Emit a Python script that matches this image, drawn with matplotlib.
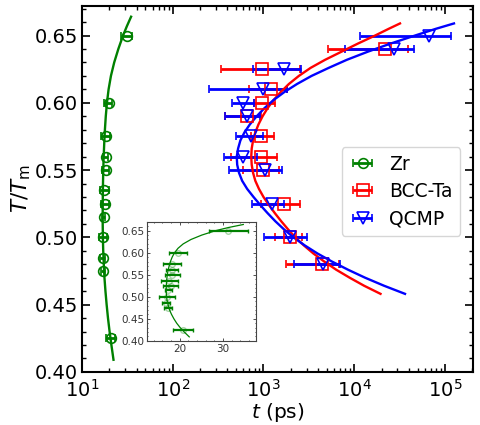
import numpy as np
import matplotlib
matplotlib.use('Agg')
import matplotlib.pyplot as plt
from matplotlib.ticker import MultipleLocator

# Zr (linear t in ps)
zr_T = [0.65, 0.60, 0.575, 0.56, 0.55, 0.535, 0.525, 0.515, 0.50, 0.485, 0.475, 0.425]
zr_t = [31.2, 19.6, 18.2, 18.2, 18.3, 17.6, 17.9, 17.3, 17.0, 16.8, 17.2, 20.8]
zr_err = [4.5, 2.0, 2.0, 1.3, 1.7, 2.0, 1.8, 0.8, 1.8, 1.0, 0.9, 2.3]

# BCC-Ta
ta_T = [0.64, 0.625, 0.61, 0.60, 0.59, 0.575, 0.56, 0.55, 0.525, 0.50, 0.48]
ta_t = [2.19e4, 966, 1195, 965, 665, 950, 927, 990, 1670, 1945, 4410]
ta_lo = [5090, 343, 700, 785, 380, 720, 440, 600, 930, 1350, 1790]
ta_hi = [3.95e4, 2500, 1800, 1350, 930, 1290, 1410, 1500, 2500, 2650, 6730]

# QCMP
qc_T = [0.65, 0.64, 0.625, 0.61, 0.60, 0.59, 0.575, 0.56, 0.55, 0.525, 0.50, 0.48]
qc_t = [6.6e4, 2.76e4, 1700, 1000, 600, 660, 720, 600, 1035, 1245, 1945, 4500]
qc_lo = [1.15e4, 7.9e3, 770, 250, 453, 380, 500, 370, 415, 750, 1020, 2190]
qc_hi = [1.17e5, 4.6e4, 2590, 1820, 783, 925, 990, 850, 1600, 1700, 3020, 6900]

# fitted C-curves
zr_fit_T = [0.409, 0.42, 0.43, 0.44, 0.45, 0.46, 0.47, 0.48, 0.49, 0.50, 0.51, 0.52,
            0.53, 0.54, 0.55, 0.56, 0.57, 0.58, 0.59, 0.60, 0.61, 0.62, 0.63, 0.64,
            0.65, 0.657, 0.664]
zr_fit_t = [22.2, 21.05, 20.1, 19.3, 18.65, 18.1, 17.65, 17.35, 17.1, 16.95, 16.88, 16.88,
            16.92, 17.0, 17.12, 17.3, 17.55, 17.85, 18.25, 18.8, 19.6, 20.8, 22.6, 25.1,
            28.3, 31.2, 34.7]

ta_fit_T = [0.458, 0.464, 0.470, 0.476, 0.482, 0.488, 0.494, 0.500, 0.506, 0.512,
            0.518, 0.524, 0.530, 0.536, 0.542, 0.548, 0.554, 0.560, 0.566, 0.572,
            0.578, 0.584, 0.590, 0.596, 0.602, 0.608, 0.614, 0.620, 0.626, 0.632,
            0.638, 0.644, 0.650, 0.655, 0.659]
ta_fit_logt = [4.29, 4.11, 3.95, 3.80, 3.67, 3.55, 3.445, 3.35, 3.27, 3.195,
               3.125, 3.06, 3.00, 2.95, 2.91, 2.885, 2.87, 2.865, 2.87, 2.885,
               2.91, 2.945, 2.99, 3.045, 3.11, 3.19, 3.28, 3.39, 3.52, 3.68,
               3.86, 4.04, 4.23, 4.38, 4.505]

qc_fit_T = [0.458, 0.464, 0.470, 0.476, 0.482, 0.488, 0.494, 0.500, 0.506, 0.512,
            0.518, 0.524, 0.530, 0.536, 0.542, 0.548, 0.554, 0.560, 0.566, 0.572,
            0.578, 0.584, 0.590, 0.596, 0.602, 0.608, 0.614, 0.620, 0.626, 0.632,
            0.638, 0.644, 0.650, 0.655, 0.659]
qc_fit_logt = [4.56, 4.33, 4.12, 3.93, 3.755, 3.595, 3.455, 3.33, 3.225, 3.13,
               3.045, 2.965, 2.89, 2.82, 2.765, 2.73, 2.71, 2.705, 2.72, 2.745,
               2.79, 2.85, 2.925, 3.01, 3.11, 3.23, 3.37, 3.53, 3.72, 3.92,
               4.15, 4.40, 4.67, 4.90, 5.10]


def xerr_of(t, lo, hi):
    t = np.array(t)
    return np.vstack([t - np.array(lo), np.array(hi) - t])


fig = plt.figure(figsize=(4.8, 4.25), dpi=100)
ax = fig.add_axes([0.171, 0.125, 0.814, 0.861])

ebkw = dict(ls='none', elinewidth=2, capsize=3, capthick=2, mew=1.2, mfc='none')

ax.errorbar(zr_t, zr_T, xerr=zr_err, marker='o', ms=7, color='green', label='Zr', **ebkw)
ax.errorbar(ta_t, ta_T, xerr=xerr_of(ta_t, ta_lo, ta_hi), marker='s', ms=8,
            color='red', label='BCC-Ta', **ebkw)
ax.errorbar(qc_t, qc_T, xerr=xerr_of(qc_t, qc_lo, qc_hi), marker='v', ms=8,
            color='blue', label='QCMP', **ebkw)

lkw = dict(lw=1.7, solid_joinstyle='round')
ax.plot(zr_fit_t, zr_fit_T, color='green', **lkw)
ax.plot(10 ** np.array(ta_fit_logt), ta_fit_T, color='red', **lkw)
ax.plot(10 ** np.array(qc_fit_logt), qc_fit_T, color='blue', **lkw)

ax.set_xscale('log')
ax.set_xlim(10, 2.03e5)
ax.set_ylim(0.40, 0.672)
ax.yaxis.set_major_locator(MultipleLocator(0.05))
ax.yaxis.set_minor_locator(MultipleLocator(0.01))
ax.tick_params(which='both', direction='in', top=True, right=True, labelsize=14)
ax.tick_params(which='major', length=6, width=1.2, pad=3)
ax.tick_params(axis='x', which='major', pad=5)
ax.tick_params(which='minor', length=3, width=1)
for s in ax.spines.values():
    s.set_linewidth(1.5)
ax.set_xlabel('$t$ (ps)', fontsize=14.5, labelpad=0)
ax.set_ylabel(r'$T/T_{\rm m}$', fontsize=15.5, labelpad=1)

leg = ax.legend(loc='upper left', bbox_to_anchor=(0.64, 0.64), fontsize=13.5,
                frameon=True, handlelength=1.45, borderpad=0.4, labelspacing=0.45,
                handletextpad=0.7)

# inset: Zr on a linear scale
ins = fig.add_axes([0.306, 0.198, 0.227, 0.28])
ins.errorbar(zr_t, zr_T, xerr=zr_err, ls='none', marker='o', ms=4, mfc='none',
             mec=(0, 0.5, 0, 0.35), color='green', elinewidth=1.6, capsize=1.5)
ins.plot(zr_fit_t, zr_fit_T, color='green', lw=0.9, solid_joinstyle='round')
ins.set_xlim(12.4, 37.6)
ins.set_ylim(0.40, 0.67)
ins.set_xticks([20, 30])
ins.yaxis.set_major_locator(MultipleLocator(0.05))
ins.yaxis.set_minor_locator(MultipleLocator(0.01))
ins.xaxis.set_minor_locator(MultipleLocator(2))
ins.tick_params(which='both', direction='in', top=True, right=True, labelsize=7.5,
                colors='#333333', length=2, width=0.6, pad=2)
ins.tick_params(which='minor', length=1)
for s in ins.spines.values():
    s.set_linewidth(0.8)
    s.set_color('#444444')

fig.savefig('out.png', dpi=100)
